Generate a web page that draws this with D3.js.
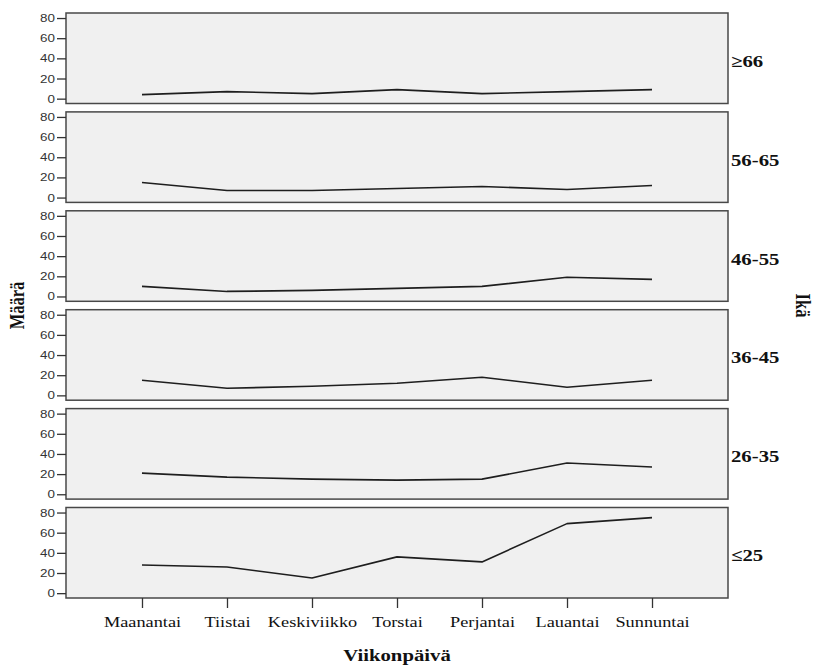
<!DOCTYPE html>
<html>
<head>
<meta charset="utf-8">
<script src="https://cdn.jsdelivr.net/npm/d3@7"></script>
<style>
  html, body { margin: 0; padding: 0; background: #ffffff; }
  svg { display: block; }
</style>
</head>
<body>
<svg id="chart" width="814" height="668"></svg>
<script>
// ---- data ----
const days = ["Maanantai", "Tiistai", "Keskiviikko", "Torstai", "Perjantai", "Lauantai", "Sunnuntai"];
const ageGroups = ["≥66", "56-65", "46-55", "36-45", "26-35", "≤25"];
const age66plus = [4, 7, 5, 9, 5, 7, 9];
const age56to65 = [15, 7, 7, 9, 11, 8, 12];
const age46to55 = [10, 5, 6, 8, 10, 19, 17];
const age36to45 = [15, 7, 9, 12, 18, 8, 15];
const age26to35 = [21, 17, 15, 14, 15, 31, 27];
const age25minus = [28, 26, 15, 36, 31, 69, 75];
const seriesValues = [age66plus, age56to65, age46to55, age36to45, age26to35, age25minus];
const yTickValues = [0, 20, 40, 60, 80];
const xTitle = "Viikonpäivä";
const yTitle = "Määrä";
const rowTitle = "Ikä";

// ---- layout ----
const SX = 1.22; // horizontal glyph stretch seen in the reference
const left = 66, right = 728;
const top0 = 13, pitch = 98.9, panelH = 90.5;

const svg = d3.select("#chart");

const x = d3.scalePoint().domain(days).range([left, right]).padding(0.894);
const y = d3.scaleLinear().domain([-4.8, 85]).range([panelH, 0]);

const line = d3.line()
  .x((d, i) => x(days[i]))
  .y(d => y(d));

ageGroups.forEach((grp, gi) => {
  const top = top0 + gi * pitch;
  const g = svg.append("g").attr("transform", `translate(0,${top})`);

  g.append("rect")
    .attr("x", left).attr("y", 0)
    .attr("width", right - left).attr("height", panelH)
    .attr("fill", "#f0f0f0")
    .attr("stroke", "#484848")
    .attr("stroke-width", 1.5);

  const ax = g.append("g")
    .attr("transform", `translate(${left},0)`)
    .call(d3.axisLeft(y).tickValues(yTickValues).tickSize(9).tickPadding(2).tickFormat(d3.format("d")));
  ax.select(".domain").remove();
  ax.selectAll(".tick line").attr("stroke", "#333").attr("stroke-width", 1.3);
  ax.selectAll(".tick text")
    .attr("font-family", "'Liberation Sans', Arial, sans-serif")
    .attr("font-size", 11)
    .attr("fill", "#333")
    .attr("x", -11 / SX)
    .attr("transform", `scale(${SX},1)`);

  g.append("path")
    .datum(seriesValues[gi])
    .attr("d", line)
    .attr("fill", "none")
    .attr("stroke", "#1e1e1e")
    .attr("stroke-width", 1.6)
    .attr("stroke-linejoin", "round");

  g.append("text")
    .attr("transform", `translate(${right + 3},${panelH / 2 + 8.5}) scale(${SX},1)`)
    .attr("font-family", "'Liberation Serif', 'Times New Roman', serif")
    .attr("font-weight", "bold")
    .attr("font-size", 17)
    .attr("fill", "#111")
    .text(grp);
});

// x axis below last panel
const lastBottom = top0 + (ageGroups.length - 1) * pitch + panelH;
const xa = svg.append("g")
  .attr("transform", `translate(0,${lastBottom})`)
  .call(d3.axisBottom(x).tickSize(10).tickPadding(8));
xa.select(".domain").remove();
xa.selectAll(".tick line").attr("stroke", "#333").attr("stroke-width", 1.3);
xa.selectAll(".tick text")
  .attr("font-family", "'Liberation Serif', 'Times New Roman', serif")
  .attr("font-size", 15)
  .attr("fill", "#111")
  .attr("y", 29).attr("dy", 0)
  .attr("transform", `scale(${SX},1)`);

// axis titles
svg.append("text")
  .attr("transform", `translate(${(left + right) / 2},661) scale(${SX},1)`)
  .attr("text-anchor", "middle")
  .attr("font-family", "'Liberation Serif', 'Times New Roman', serif")
  .attr("font-weight", "bold")
  .attr("font-size", 17)
  .attr("fill", "#111")
  .text(xTitle);

const midY = (top0 + lastBottom) / 2;
svg.append("text")
  .attr("transform", `translate(24,${midY}) scale(${SX},1) rotate(-90)`)
  .attr("text-anchor", "middle")
  .attr("font-family", "'Liberation Serif', 'Times New Roman', serif")
  .attr("font-weight", "bold")
  .attr("font-size", 16.5)
  .attr("fill", "#111")
  .text(yTitle);

svg.append("text")
  .attr("transform", `translate(796,${midY}) scale(${SX},1) rotate(90)`)
  .attr("text-anchor", "middle")
  .attr("font-family", "'Liberation Serif', 'Times New Roman', serif")
  .attr("font-weight", "bold")
  .attr("font-size", 16.5)
  .attr("fill", "#111")
  .text(rowTitle);
</script>
</body>
</html>
